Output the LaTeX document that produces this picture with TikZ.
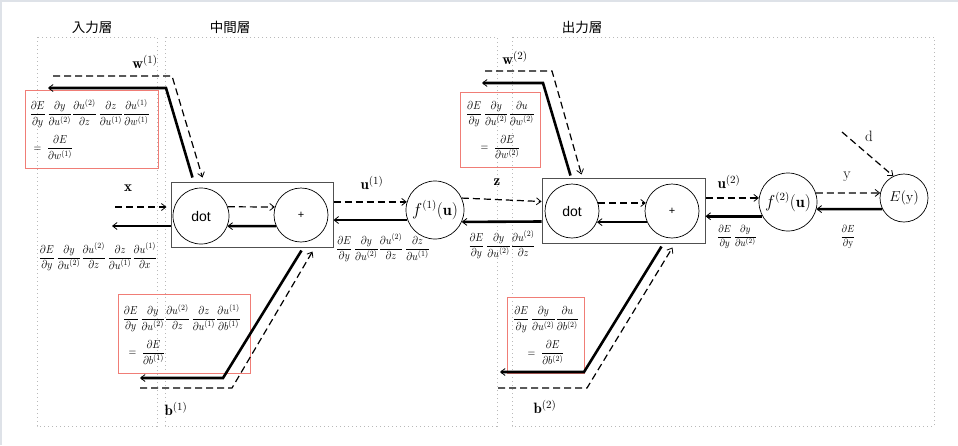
\documentclass[tikz,border=0pt]{standalone}
\usepackage{fontspec}
\usepackage{amsmath}
\usepackage{graphicx}
\newfontfamily\cjk{Noto Sans CJK JP}
\newfontfamily\sansf{Liberation Sans}
\usetikzlibrary{arrows.meta,calc}
\definecolor{redbox}{RGB}{240,125,118}
\definecolor{layergray}{RGB}{185,185,185}
\definecolor{boxgray}{RGB}{80,80,80}
\definecolor{framegray}{RGB}{222,226,232}
\newcommand\pdfr[2]{\dfrac{\partial #1}{\partial #2}}
\newcommand\tallfrm[1]{\scalebox{1}[1.15]{#1}}
\tikzset{
  tipA/.tip={Straight Barb[length=4.5pt,width=7pt,line width=0.8pt]},
  fwd/.style={line width=1.2pt, dash pattern=on 7pt off 4pt, -tipA},
  bwd/.style={line width=2.6pt, -tipA},
  neuron/.style={circle, draw, line width=0.7pt, inner sep=0pt, minimum size=#1},
  unitbox/.style={draw=boxgray, line width=1pt, inner sep=0pt},
  layer/.style={draw=layergray, line width=0.8pt, dash pattern=on 1pt off 3pt},
  lbl/.style={inner sep=0pt, font=\fontsize{15}{16}\selectfont},
  cjklbl/.style={inner sep=0pt, font=\cjk\fontsize{13.5}{15}\selectfont},
  frm/.style={inner sep=0pt, font=\fontsize{10}{11}\selectfont},
  frms/.style={inner sep=0pt, font=\fontsize{9}{10}\selectfont},
  redfrm/.style={draw=redbox, line width=1.1pt, inner sep=4pt, anchor=north west, font=\fontsize{10}{11}\selectfont},
}
\begin{document}
\begin{tikzpicture}[x=1pt,y=-1pt]
\useasboundingbox (0,0) rectangle (958,445);
\draw[framegray, line width=1.5pt] (0.75,445) -- (0.75,0.75) -- (958,0.75);

% layers
\draw[layer] (37,37) rectangle (157,426);
\draw[layer] (165,37) rectangle (497,426);
\draw[layer] (512,37) rectangle (934,426);
\node[cjklbl] (L1) at (92,27) {入力層};
\node[cjklbl] (L2) at (230,27) {中間層};
\node[cjklbl] (L3) at (582,27) {出力層};

% left unit
\node[unitbox, minimum width=162pt, minimum height=65pt] (boxL) at (252,214.5) {};
\node[neuron=56pt, font=\sansf\fontsize{14}{15}\selectfont] (dotL) at (201,216) {dot};
\node[neuron=54pt, font=\sansf\fontsize{11}{12}\selectfont] (plusL) at (301,215) {+};

% right unit
\node[unitbox, minimum width=163pt, minimum height=65pt] (boxR) at (623.5,210.5) {};
\node[neuron=54pt, font=\sansf\fontsize{14}{15}\selectfont] (dotR) at (572,211) {dot};
\node[neuron=54pt, font=\sansf\fontsize{11}{12}\selectfont] (plusR) at (672,211) {+};

% activations and loss
\node[neuron=58pt, font=\fontsize{16}{17}\selectfont] (f1) at (435,210) {$f^{(1)}(\mathbf{u})$};
\node[neuron=58pt, font=\fontsize{16}{17}\selectfont] (f2) at (788,202) {$f^{(2)}(\mathbf{u})$};
\node[neuron=48pt, font=\fontsize{14}{15}\selectfont] (E) at (904,198) {$E(\mathrm{y})$};

% red boxes
\node[redfrm, minimum width=133pt, minimum height=78pt, text width=125pt, align=left] (R1) at (25,90)
  {\tallfrm{$\pdfr{E}{y}\,\pdfr{y}{u^{(2)}}\pdfr{u^{(2)}}{z}\,\pdfr{z}{u^{(1)}}\pdfr{u^{(1)}}{w^{(1)}}$}\\[7pt]
   \hspace*{4pt}\tallfrm{$=\;\pdfr{E}{w^{(1)}}$}};
\node[redfrm, minimum width=132pt, minimum height=79pt, text width=124pt, align=left] (R2) at (118,294)
  {\tallfrm{$\pdfr{E}{y}\,\pdfr{y}{u^{(2)}}\pdfr{u^{(2)}}{z}\,\pdfr{z}{u^{(1)}}\pdfr{u^{(1)}}{b^{(1)}}$}\\[7pt]
   \hspace*{6pt}\tallfrm{$=\;\pdfr{E}{b^{(1)}}$}};
\node[redfrm, minimum width=80pt, minimum height=75pt, text width=72pt, align=center] (R3) at (460,92)
  {\tallfrm{$\pdfr{E}{y}\,\pdfr{y}{u^{(2)}}\pdfr{u}{w^{(2)}}$}\\[7pt]
   \tallfrm{$=\;\pdfr{E}{w^{(2)}}$}};
\node[redfrm, minimum width=77pt, minimum height=76pt, text width=69pt, align=center] (R4) at (507,297)
  {\tallfrm{$\pdfr{E}{y}\,\pdfr{y}{u^{(2)}}\pdfr{u}{b^{(2)}}$}\\[7pt]
   \tallfrm{$=\;\pdfr{E}{b^{(2)}}$}};

% free formulas
\node[frm] (F1) at (98,257) {\tallfrm{$\pdfr{E}{y}\,\pdfr{y}{u^{(2)}}\pdfr{u^{(2)}}{z}\,\pdfr{z}{u^{(1)}}\pdfr{u^{(1)}}{x}$}};
\node[frm] (F2) at (383,248) {\tallfrm{$\pdfr{E}{y}\,\pdfr{y}{u^{(2)}}\pdfr{u^{(2)}}{z}\,\pdfr{z}{u^{(1)}}$}};
\node[frm] (F3) at (502,245) {\tallfrm{$\pdfr{E}{y}\,\pdfr{y}{u^{(2)}}\pdfr{u^{(2)}}{z}$}};
\node[frms] (F4) at (737,237) {\tallfrm{$\pdfr{E}{y}\,\pdfr{y}{u^{(2)}}$}};
\node[frms] (F5) at (848,237) {\tallfrm{$\pdfr{E}{\mathrm{y}}$}};

% labels
\node[lbl] (lw1) at (145,62) {$\mathbf{w}^{(1)}$};
\node[lbl] (lx) at (128,188) {$\mathbf{x}$};
\node[lbl] (lb1) at (176,409) {$\mathbf{b}^{(1)}$};
\node[lbl] (lu1) at (372,183) {$\mathbf{u}^{(1)}$};
\node[lbl] (lz) at (497,182) {$\mathbf{z}$};
\node[lbl] (lw2) at (515,58) {$\mathbf{w}^{(2)}$};
\node[lbl] (lb2) at (545,407) {$\mathbf{b}^{(2)}$};
\node[lbl] (lu2) at (729,182) {$\mathbf{u}^{(2)}$};
\node[lbl] (ly) at (847,177) {$\mathrm{y}$};
\node[lbl] (ld) at (869,136) {$\mathrm{d}$};

% free ends and bends
\coordinate (xin) at (115,207);
\coordinate (xout) at (112,226);
\coordinate (w1a) at (53,76);
\coordinate (w1b) at (172,76);
\coordinate (w1c) at (166,88);
\coordinate (w1d) at (48,88);
\coordinate (b1a) at (223,378);
\coordinate (b1b) at (140,378);
\coordinate (b1c) at (140,388);
\coordinate (b1d) at (232,388);
\coordinate (w2a) at (485,71);
\coordinate (w2b) at (552,71);
\coordinate (w2c) at (543,83);
\coordinate (w2d) at (482,83);
\coordinate (b2a) at (584,372);
\coordinate (b2b) at (500,372);
\coordinate (b2c) at (498,388);
\coordinate (b2d) at (587,388);
\coordinate (dstart) at (842,132);

% left unit connectors
\draw[fwd, shorten >=4pt] (xin) -- (xin -| boxL.west);
\draw[bwd] (xout -| boxL.west) -- (xout);
\draw[fwd] (dotL.19) -- (plusL.163);
\draw[bwd] (plusL.-156) -- (dotL.-21);
\draw[fwd] (w1a) -- (w1b) -- ($(boxL.north west)+(32,-4)$);
\draw[bwd] ($(boxL.north west)+(22,-4)$) -- (w1c) -- (w1d);
\draw[bwd] ($(boxL.south west)+(131,3)$) -- (b1a) -- (b1b);
\draw[fwd] (b1c) -- (b1d) -- ($(boxL.south west)+(142,4)$);

% middle connectors
\draw[fwd] (boxL.east |- f1.164) -- (f1.164);
\draw[bwd] (f1.200) -- (boxL.east |- f1.200);
\draw[fwd] (f1.24) -- ($(boxR.north west)+(0,24)$);
\draw[bwd] ($(boxR.north west)+(0,44)$) -- (f1.-24);

% right unit connectors
\draw[fwd] (dotR.17) -- (plusR.163);
\draw[bwd] (plusR.-156) -- (dotR.-24);
\draw[fwd] (w2a) -- (w2b) -- ($(boxR.north west)+(40,-3)$);
\draw[bwd] ($(boxR.north west)+(29,-2)$) -- (w2c) -- (w2d);
\draw[bwd] ($(boxR.south west)+(120,3)$) -- (b2a) -- (b2b);
\draw[fwd] (b2c) -- (b2d) -- ($(boxR.south west)+(131,4)$);

% output connectors
\draw[fwd] (boxR.east |- f2.172) -- (f2.172);
\draw[bwd] (f2.209) -- (boxR.east |- f2.209);
\draw[fwd] (f2.18) -- (E.168);
\draw[bwd] (E.207) -- (f2.-14);
\draw[fwd] (dstart) -- (E.116);
\end{tikzpicture}
\end{document}
